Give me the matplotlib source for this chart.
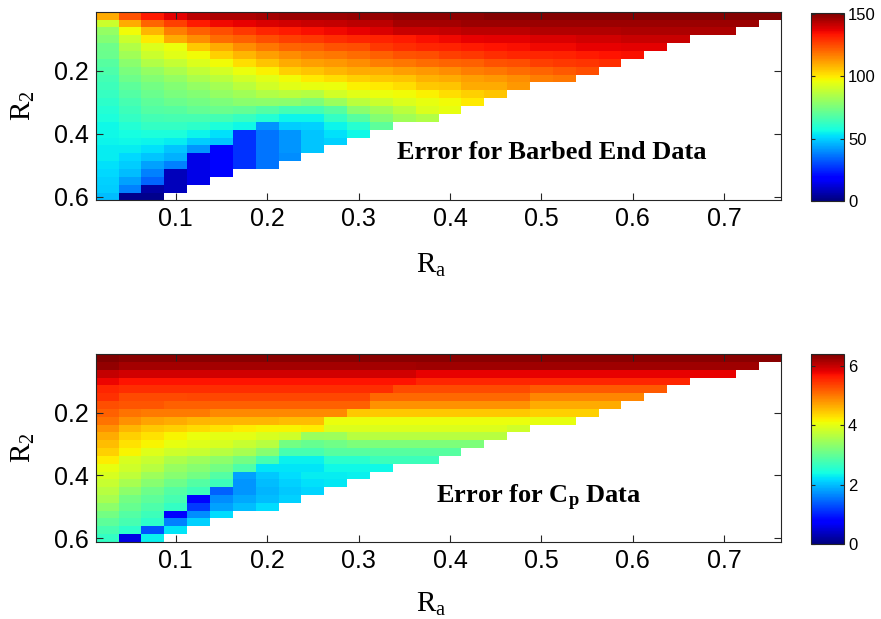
import matplotlib
matplotlib.use('Agg')
import matplotlib.pyplot as plt
import numpy as np

plt.rcParams['font.family'] = ['Liberation Sans', 'DejaVu Sans']
plt.rcParams['mathtext.fontset'] = 'custom'
plt.rcParams['mathtext.rm'] = 'Liberation Serif'
plt.rcParams['mathtext.it'] = 'Liberation Serif:italic'
plt.rcParams['mathtext.bf'] = 'Liberation Serif:bold'

# grid centres
ra = [0.025, 0.05, 0.075, 0.1, 0.125, 0.15, 0.175, 0.2, 0.225, 0.25,
      0.275, 0.3, 0.325, 0.35, 0.375, 0.4, 0.425, 0.45, 0.475, 0.5,
      0.525, 0.55, 0.575, 0.6, 0.625, 0.65, 0.675, 0.7, 0.725, 0.75]
r2 = [0.025, 0.05, 0.075, 0.1, 0.125, 0.15, 0.175, 0.2, 0.225, 0.25,
      0.275, 0.3, 0.325, 0.35, 0.375, 0.4, 0.425, 0.45, 0.475, 0.5,
      0.525, 0.55, 0.575, 0.6]

# error for barbed end data, one list per R2 row (cells past the end are empty)
barbed_err = [
    [110, 124, 133, 138, 143, 145, 145, 146, 147, 147, 147, 148, 148, 149, 149, 149, 149, 150, 150, 150,
     150, 150, 150, 150, 150, 150, 150, 150, 150, 150],
    [90, 110, 121, 127, 133, 136, 137, 139, 140, 141, 142, 143, 143, 146, 146, 146, 147, 147, 147, 147,
     147, 147, 147, 147, 147, 147, 147, 147, 147],
    [80, 97, 108, 117, 122, 125, 128, 131, 133, 135, 136, 137, 139, 141, 141, 142, 143, 143, 143, 144,
     144, 144, 144, 145, 145, 145, 145, 145],
    [77, 90, 100, 110, 115, 120, 122, 125, 127, 128, 130, 131, 132, 133, 135, 136, 137, 138, 138, 139,
     139, 140, 140, 141, 141, 141],
    [73, 85, 93, 96, 105, 110, 115, 118, 121, 122, 124, 125, 128, 130, 131, 132, 133, 134, 135, 136,
     136, 137, 137, 138, 138],
    [72, 82, 90, 94, 97, 104, 108, 112, 115, 117, 118, 120, 122, 124, 125, 127, 128, 130, 131, 131,
     132, 133, 134, 135],
    [69, 78, 85, 89, 93, 97, 102, 106, 110, 112, 113, 115, 117, 118, 120, 121, 122, 124, 125, 127,
     128, 129, 130],
    [67, 75, 80, 84, 88, 92, 96, 99, 104, 106, 108, 110, 110, 112, 113, 115, 117, 118, 120, 121,
     123, 125],
    [65, 73, 77, 80, 84, 87, 91, 94, 97, 100, 102, 104, 105, 106, 109, 110, 112, 113, 115, 117, 118],
    [64, 70, 74, 77, 80, 83, 87, 91, 94, 95, 96, 99, 100, 102, 105, 106, 110, 110, 113],
    [63, 68, 72, 75, 77, 80, 82, 85, 87, 86, 91, 94, 96, 97, 99, 102, 104, 106],
    [61, 66, 70, 72, 74, 76, 78, 79, 78, 76, 81, 87, 90, 93, 95, 97, 100],
    [59, 64, 68, 69, 71, 72, 71, 68, 65, 65, 69, 78, 82, 87, 93, 95],
    [58, 62, 65, 66, 66, 65, 63, 59, 55, 55, 62, 69, 77, 82, 85],
    [56, 59, 62, 62, 61, 58, 56, 41, 49, 50, 55, 60, 70],
    [56, 57, 58, 58, 55, 52, 26, 36, 41, 48, 52, 56],
    [55, 56, 55, 54, 49, 48, 26, 36, 41, 48, 50],
    [54, 54, 52, 48, 41, 19, 26, 36, 41, 48],
    [54, 51, 48, 45, 14, 19, 26, 36, 40],
    [52, 49, 43, 38, 14, 19, 26, 36],
    [51, 47, 38, 8, 14, 19],
    [50, 43, 34, 8, 14],
    [49, 38, 5, 8],
    [47, 2, 2],
]

# error for Cp data
cp_err = [
    [6.38] + [6.33] * 29,
    [6.26] + [6.18] * 13 + [6.2] * 15,
    [5.99] + [5.93] * 13 + [5.8] * 14,
    [5.77] + [5.68] * 13 + [5.55] * 12,
    [5.55] + [5.5] * 12 + [5.3] * 6 + [5.2] * 6,
    [5.46] + [5.3] * 3 + [5.33] * 8 + [5.1] * 7 + [4.9] * 5,
    [5.27, 5.21, 5.21] + [5.14] * 9 + [4.83] * 7 + [4.65] * 4,
    [5.14, 5.02, 4.96, 4.96, 4.96] + [4.88] * 6 + [4.45] * 8 + [4.4] * 3,
    [5.02, 4.83, 4.71, 4.64, 4.58, 4.58, 4.58, 4.58, 4.52, 4.52] + [4.05] * 9 + [4.02] * 2,
    [4.83, 4.58, 4.46, 4.39, 4.33, 4.27, 4.21, 4.14, 4.14, 4.2] + [3.92] * 8 + [3.83],
    [4.64, 4.39, 4.27, 4.14, 4.05, 3.99, 3.99, 3.9, 3.83, 3.42, 3.45] + [3.64] * 7,
    [4.52, 4.27, 4.14, 4.02, 3.95, 3.89, 3.77, 3.64, 3.14, 3.02, 3.1] + [3.2] * 6,
    [4.39, 4.14, 3.95, 3.83, 3.77, 3.64, 3.52, 3.27, 2.77, 2.77] + [2.9] * 6,
    [4.21, 3.89, 3.77, 3.58, 3.46, 3.33, 3.14, 2.77, 2.30, 2.30, 2.55, 2.55, 2.7, 2.7, 2.7],
    [4.02, 3.83, 3.64, 3.39, 3.27, 3.14, 2.83, 2.23, 2.23, 2.23, 2.35, 2.35, 2.35],
    [3.89, 3.71, 3.46, 3.27, 3.14, 2.89, 1.80, 2.05, 2.18, 2.27, 2.27, 2.3],
    [3.77, 3.52, 3.27, 3.08, 2.89, 2.71, 1.74, 1.99, 2.11, 2.21, 2.25],
    [3.64, 3.33, 3.08, 2.89, 2.71, 1.42, 1.74, 1.92, 2.05, 2.14],
    [3.52, 3.14, 2.96, 2.77, 0.80, 1.67, 1.86, 1.99, 2.11],
    [3.33, 3.02, 2.83, 2.64, 1.17, 1.80, 1.99, 2.18],
    [3.14, 2.89, 2.71, 0.70, 1.67, 2.18],
    [2.96, 2.77, 2.58, 1.61, 2.11],
    [2.77, 2.58, 1.30, 2.23],
    [2.64, 0.55, 2.30],
]

x_ticks = [0.1, 0.2, 0.3, 0.4, 0.5, 0.6, 0.7]
y_ticks = [0.2, 0.4, 0.6]


def to_grid(rows):
    grid = np.full((len(r2), len(ra)), np.nan)
    for i, row in enumerate(rows):
        grid[i, :len(row)] = row
    return np.ma.masked_invalid(grid)


def edges(c):
    c = np.asarray(c)
    d = c[1] - c[0]
    return np.append(c - d / 2, c[-1] + d / 2)


xe = edges(ra)
ye = edges(r2)
edge_col = '#262626'

fig = plt.figure(figsize=(8.81, 6.19), dpi=100, facecolor='white')

panels = [
    (barbed_err, 151, [0, 50, 100, 150], 'Error for Barbed End Data', (0.342, 0.482),
     [0.1086, 0.6761, 0.7784, 0.305], [0.920, 0.676, 0.0378, 0.3027], -0.27),
    (cp_err, 6.38, [0, 2, 4, 6], r'Error for C$_\mathbf{p}$ Data', (0.385, 0.489),
     [0.1086, 0.1244, 0.7784, 0.3037], [0.920, 0.1212, 0.0378, 0.3065], -0.26),
]

for rows, vmax, cticks, label, pos, rect, crect, xl in panels:
    ax = fig.add_axes(rect)
    mesh = ax.pcolormesh(xe, ye, to_grid(rows), cmap='jet', vmin=0, vmax=vmax,
                         shading='flat', antialiased=False)
    ax.set_xlim(xe[0], xe[-1])
    ax.set_ylim(ye[-1], ye[0])
    ax.set_xticks(x_ticks)
    ax.set_xticklabels(['%.1f' % t for t in x_ticks])
    ax.set_yticks(y_ticks)
    ax.set_yticklabels(['%.1f' % t for t in y_ticks])
    ax.tick_params(direction='in', top=True, right=True, length=5, width=0.8,
                   labelsize=18, color=edge_col, pad=5)
    for s in ax.spines.values():
        s.set_color(edge_col)
        s.set_linewidth(0.8)
    ax.set_xlabel(r'R$_\mathrm{a}$', fontfamily='Liberation Serif', fontsize=21)
    ax.set_ylabel(r'R$_\mathrm{2}$', fontfamily='Liberation Serif', fontsize=21)
    ax.xaxis.set_label_coords(0.49, xl)
    ax.yaxis.set_label_coords(-0.085, 0.5)
    ax.text(pos[0], pos[1], label, fontfamily='Liberation Serif', fontweight='bold',
            fontsize=19, va='baseline', ha='left')

    cax = fig.add_axes(crect)
    cb = fig.colorbar(mesh, cax=cax, ticks=cticks)
    cb.outline.set_edgecolor(edge_col)
    cb.outline.set_linewidth(0.8)
    cb.ax.tick_params(direction='in', left=True, right=True, length=3, width=0.8,
                      labelsize=12, color=edge_col, pad=3)

fig.savefig('out.png', dpi=100, facecolor='white')
